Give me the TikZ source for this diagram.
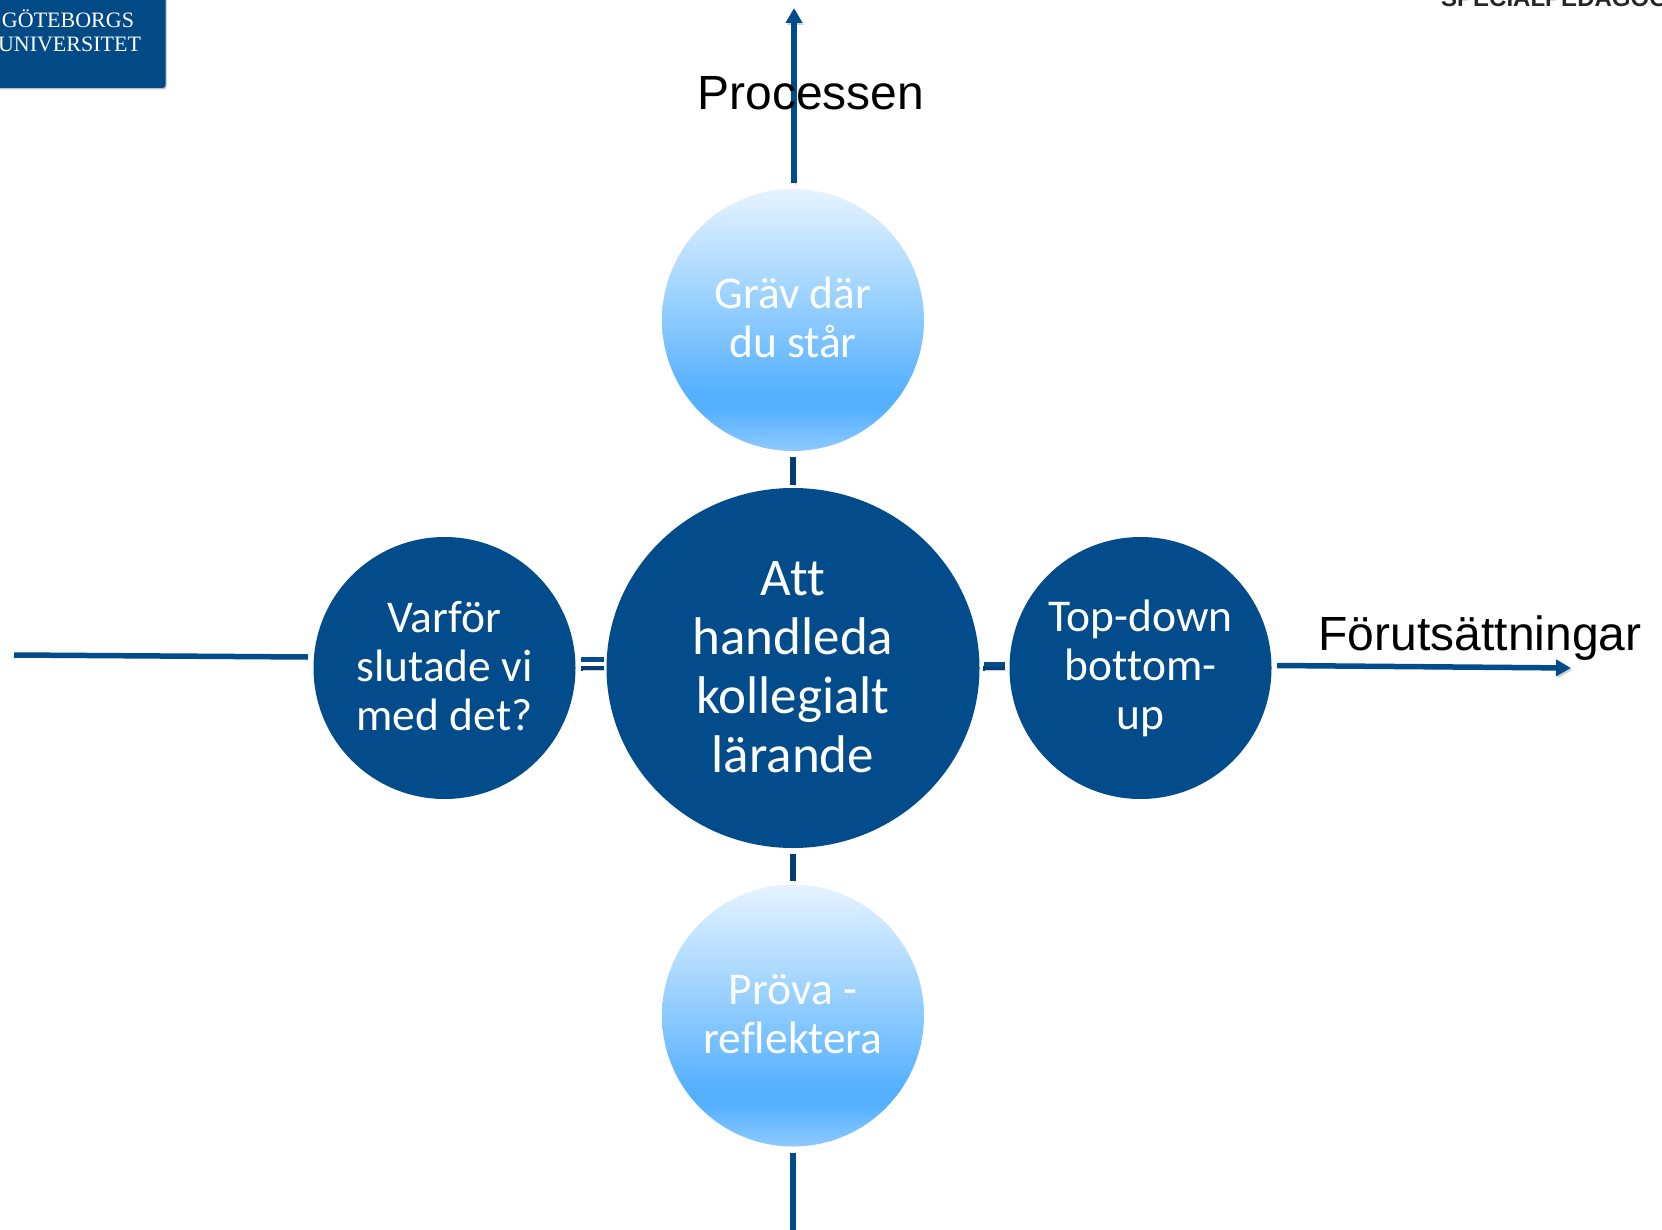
\documentclass[tikz,border=0pt]{standalone}
\usepackage{fontspec}
\setmainfont[Ligatures=NoCommon]{Carlito}
\newfontfamily\arialf{Liberation Sans}
\newfontfamily\serifl{Liberation Serif}
\usetikzlibrary{shapes.geometric,arrows.meta}
\definecolor{gublue}{HTML}{024C8B}
\definecolor{gulogo}{HTML}{024A85}
\definecolor{stubblue}{HTML}{033F73}
\definecolor{bubC}{HTML}{8ECAFF}
\definecolor{bubM}{HTML}{55B0FF}
\definecolor{bubQ}{HTML}{A9D8FF}
\definecolor{bubT}{HTML}{E6F3FF}
\pgfdeclareverticalshading{bubble}{100bp}{color(0bp)=(bubC); color(25bp)=(bubC); color(33bp)=(bubM); color(36bp)=(bubM); color(58bp)=(bubQ); color(75bp)=(bubT); color(100bp)=(bubT)}
\newcommand\liftlines[2]{\raisebox{#1}[\height][\depth]{\begin{tabular}{@{}c@{}}#2\end{tabular}}}
\tikzset{
  x=1pt,y=-1pt,
  dark/.style={circle,fill=gublue,draw=none,inner sep=0pt,minimum size=262pt,text=white,align=center,font=\fontsize{45.5}{49}\selectfont},
  light/.style={dark,fill=none,shading=bubble,text=white!92!bubT},
  hub/.style={ellipse,fill=gublue,inner sep=0pt,minimum width=373pt,minimum height=360pt,text=white,align=center,font=\fontsize{53}{59}\selectfont},
  soft/.style={preaction={draw=black!18,transform canvas={shift={(1.5pt,-2pt)}}}},
  conn/.style={draw=gublue,line width=6pt,soft},
  thin conn/.style={draw=gublue,line width=5.5pt,soft},
  stub/.style={draw=stubblue,line width=6.5pt,soft},
  lab/.style={font=\arialf\fontsize{48}{55}\selectfont,text=black,inner sep=0pt},
  tip/.style={-{Triangle[length=15pt,width=16pt]}},
  logotext/.style={anchor=base,text=white,font=\serifl\fontsize{22}{25}\selectfont},
}
\begin{document}
\begin{tikzpicture}
\useasboundingbox (0,0) rectangle (1662,1230);
\clip (0,0) rectangle (1662,1230);
% logo
\fill[black!25,rounded corners=3pt] (-10,-10) rectangle (166.5,89.5);
\fill[gulogo,rounded corners=3pt] (-10,-10) rectangle (165.5,88);
\node[logotext] (gu1) at (68,27.5) {GÖTEBORGS};
\node[logotext] (gu2) at (69.5,51.5) {UNIVERSITET};
% header
\node[anchor=base west,inner sep=0pt,text=black!85,font=\arialf\bfseries\fontsize{24}{28}\selectfont] (head) at (1441,7) {SPECIALPEDAGOGIK};
% free ends
\coordinate (topend) at (794,8);
\coordinate (botend) at (793,1232);
\coordinate (leftend) at (14,655);
\coordinate (rightend) at (1571,668);
\coordinate (topstart) at (794,183);
\coordinate (botstart) at (793,1153);
\coordinate (leftstart) at (308,657);
\coordinate (rightstart) at (1277,665.5);
% nodes
\node[hub] (c) at (793,668) {\liftlines{-3.7pt}{Att\\handleda\\kollegialt\\lärande}};
\node[light] (t) at (793,320) {\liftlines{-3.2pt}{Gräv där\\du står}};
\node[light] (b) at (793,1015.5) {\liftlines{-3.7pt}{Pröva -\\reflektera}};
\node[dark] (l) at (444.5,668) {\liftlines{-3.2pt}{Varför\\slutade vi\\med det?}};
\node[dark] (r) at (1140.5,668) {\liftlines{-2.6pt}{Top-down\\bottom-\\up}};
% long arms
\draw[conn,tip] (topstart) -- (topend);
\draw[conn] (botstart) -- (botend);
\draw[thin conn] (leftstart) -- (leftend);
\draw[thin conn,tip] (rightstart) -- (rightend);
% labels
\node[lab,anchor=base] (proc) at (811,110) {Processen};
\node[lab,anchor=base] (forut) at (1480,650) {Förutsättningar};
% stubs
\draw[stub,shorten <=6pt,shorten >=3pt] (t) -- (c);
\draw[stub,shorten <=6pt,shorten >=3pt] (c) -- (b);
\draw[stub,line width=5pt,shorten <=5.5pt,shorten >=2.5pt] (l) -- (c);
\draw[conn,line width=5pt,shorten <=5.5pt,shorten >=2.5pt,transform canvas={yshift=8.5pt}] (l) -- (c);
\draw[stub,line width=5pt,shorten <=3.5pt,shorten >=4.5pt] (c) -- (r);
\draw[conn,line width=5pt,shorten <=4pt,shorten >=4.5pt,transform canvas={yshift=3.5pt}] (c) -- (r);
\end{tikzpicture}
\end{document}
